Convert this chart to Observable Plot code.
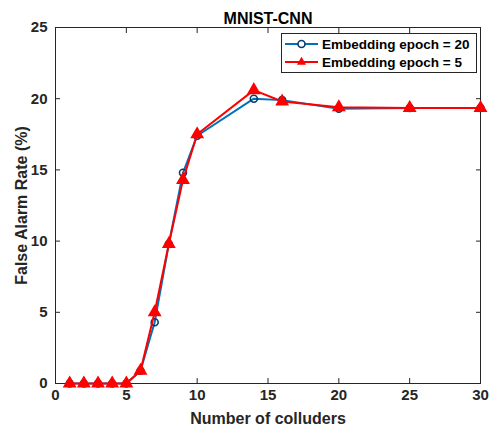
<!DOCTYPE html>
<html>
<head>
<meta charset="utf-8">
<script src="https://cdn.jsdelivr.net/npm/d3@7"></script>
<script src="https://cdn.jsdelivr.net/npm/@observablehq/plot@0.6"></script>
<style>
  body { margin: 0; background: #fff; font-family: "Liberation Sans", Arial, sans-serif; }
  #wrap { position: relative; width: 494px; height: 428px; }
  #legend { position: absolute; left: 281px; top: 33px; }
</style>
</head>
<body>
<div id="wrap">
  <div id="chart"></div>
  <svg id="legend" width="196" height="40"></svg>
</div>
<script>
const chartTitle = "MNIST-CNN";
const colluders = [1, 2, 3, 4, 5, 6, 7, 8, 9, 10, 14, 16, 20, 25, 30];
const epoch20 = [0, 0, 0, 0, 0, 0.9, 4.3, 9.8, 14.8, 17.4, 20.0, 19.9, 19.3, 19.35, 19.35];
const epoch5  = [0, 0, 0, 0, 0, 0.9, 5.0, 9.8, 14.3, 17.5, 20.6, 19.8, 19.4, 19.35, 19.35];
const seriesNames = ["Embedding epoch = 20", "Embedding epoch = 5"];
const seriesColors = ["#0072BD", "#FF0000"];
const xTicks = [0, 5, 10, 15, 20, 25, 30];
const yTicks = [0, 5, 10, 15, 20, 25];

const rows20 = colluders.map((x, i) => ({x, y: epoch20[i]}));
const rows5 = colluders.map((x, i) => ({x, y: epoch5[i]}));

const axisColor = "#262626";
const noText = () => "";
const chart = Plot.plot({
  width: 494,
  height: 428,
  marginLeft: 55,
  marginRight: 14,
  marginTop: 27,
  marginBottom: 45,
  style: {fontFamily: "Liberation Sans, Arial, sans-serif", fontWeight: "bold", color: axisColor, background: "#fff"},
  x: {domain: [0, 30]},
  y: {domain: [0, 25]},
  marks: [
    Plot.frame({stroke: axisColor, strokeWidth: 1}),
    Plot.text([chartTitle], {frameAnchor: "top", dy: -15, fontSize: 16, fontWeight: "bold", fill: "#000"}),
    Plot.axisX(xTicks, {anchor: "bottom", tickSize: 0, tickPadding: 6, fontSize: 15, fill: axisColor, label: "Number of colluders", labelAnchor: "center", labelArrow: "none", labelOffset: 40}),
    Plot.axisX(xTicks, {anchor: "bottom", tickSize: -5, tickFormat: noText, label: null, stroke: axisColor}),
    Plot.axisX(xTicks, {anchor: "top", tickSize: -5, tickFormat: noText, label: null, stroke: axisColor}),
    Plot.axisY(yTicks, {anchor: "left", tickSize: 0, tickPadding: 8, fontSize: 15, fill: axisColor, label: "False Alarm Rate (%)", labelAnchor: "center", labelArrow: "none", labelOffset: 40}),
    Plot.axisY(yTicks, {anchor: "left", tickSize: -5, tickFormat: noText, label: null, stroke: axisColor}),
    Plot.axisY(yTicks, {anchor: "right", tickSize: -5, tickFormat: noText, label: null, stroke: axisColor}),
    Plot.line(rows20, {x: "x", y: "y", stroke: seriesColors[0], strokeWidth: 2}),
    Plot.dot(rows20, {x: "x", y: "y", r: 3.5, stroke: "#0b3a66", strokeWidth: 1.6, fill: "none"}),
    Plot.line(rows5, {x: "x", y: "y", stroke: seriesColors[1], strokeWidth: 2}),
    Plot.dot(rows5, {x: "x", y: "y", symbol: "triangle", r: 4.2, stroke: seriesColors[1], fill: seriesColors[1]})
  ]
});
document.getElementById("chart").appendChild(chart);
d3.select(chart).selectAll("g[aria-label='x-axis label'] text, g[aria-label='y-axis label'] text").style("font-size", "16px");

// Legend
const lg = d3.select("#legend");
lg.append("rect").attr("x", 0.5).attr("y", 0.5).attr("width", 195).attr("height", 39).attr("fill", "#fff").attr("stroke", axisColor).attr("stroke-width", 1);
seriesNames.forEach((name, i) => {
  const y = 11 + i * 18;
  lg.append("line").attr("x1", 4).attr("x2", 37).attr("y1", y).attr("y2", y).attr("stroke", seriesColors[i]).attr("stroke-width", 2);
  if (i === 0) {
    lg.append("circle").attr("cx", 20.5).attr("cy", y).attr("r", 3.5).attr("fill", "#fff").attr("stroke", "#0b3a66").attr("stroke-width", 1.6);
  } else {
    lg.append("path").attr("d", d3.symbol(d3.symbolTriangle2, 60)()).attr("transform", `translate(20.5,${y})`).attr("fill", seriesColors[i]);
  }
  lg.append("text").attr("x", 41).attr("y", y).attr("dy", "0.36em").attr("font-size", 13.5).attr("font-weight", "bold").attr("fill", "#000").attr("font-family", "Liberation Sans, Arial, sans-serif").text(name);
});
</script>
</body>
</html>
